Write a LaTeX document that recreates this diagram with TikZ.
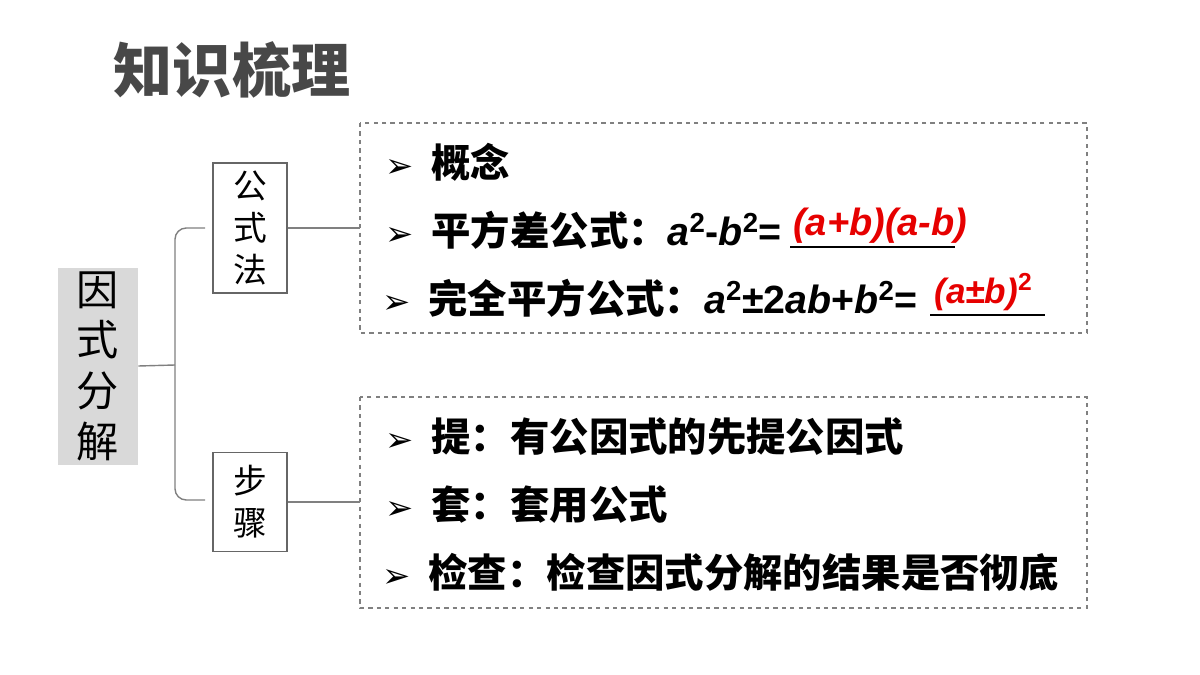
\documentclass[tikz,border=0pt]{standalone}
\usepackage{fontspec}
\setmainfont{Noto Sans CJK SC}
\newfontfamily\cjk{Noto Sans CJK SC}
\newfontfamily\lat{Liberation Sans}
\newfontfamily\sym{DejaVu Sans}
\usetikzlibrary{positioning}
\definecolor{titlegray}{RGB}{72,72,72}
\definecolor{ansred}{RGB}{230,0,0}
\tikzset{
  sidebox/.style={draw=gray!80!black, line width=0.8pt, fill=white, minimum width=74*0.025cm, align=center, font=\fontsize{24}{30}\selectfont, inner sep=2pt},
  dashbox/.style={draw=gray, dashed, line width=0.8pt},
  item/.style={anchor=west, font=\fontsize{28}{32}\selectfont\bfseries, inner sep=0pt},
  link/.style={gray, line width=1pt}
}
\newcommand{\bul}{{\sym\fontsize{24}{26}\selectfont\bfseries ➢}\ \ }
\newcommand{\vi}[1]{{\lat\itshape #1}}
\begin{document}
\begin{tikzpicture}[x=0.025cm,y=-0.025cm]
\useasboundingbox (0,0) rectangle (1200,675);

% title
\node[text=titlegray, font=\fontsize{42}{46}\selectfont\bfseries] (title) at (232,70) {知识梳理};

% main box
\node[fill=gray!30, minimum width=80*0.025cm, minimum height=197*0.025cm, align=center, font=\fontsize{30}{36}\selectfont, inner sep=0pt] (main) at (98,366) {因\\式\\分\\解};

% bracket
\coordinate (br) at (175,365);
\draw[link] (main.east) -- (br);
\draw[link, rounded corners=8pt] (205,228) -- (175,228) -- (175,500) -- (205,500);

% side boxes
\node[sidebox, minimum height=130*0.025cm] (gsf) at (250,228) {公\\式\\法};
\node[sidebox, minimum height=99*0.025cm] (bz) at (250,502) {步\\骤};

% dashed boxes
\draw[dashbox] (360,123) rectangle (1087,333);
\draw[dashbox] (360,397) rectangle (1087,608);
\coordinate (d1) at (360,228);
\coordinate (d2) at (360,502);
\draw[link] (gsf.east) -- (d1);
\draw[link] (bz.east) -- (d2);

% items
\node[item] (a1) at (385,162) {\bul 概念};
\node[item] (a2) at (385,230) {\bul 平方差公式：\vi{a}\textsuperscript{\lat 2}{\lat -}\vi{b}\textsuperscript{\lat 2}{\lat =}};
\node[item] (a3) at (382,298) {\bul 完全平方公式：\vi{a}\textsuperscript{\lat 2}{\lat ±2}\vi{ab}{\lat +}\vi{b}\textsuperscript{\lat 2}{\lat =}};
\node[item, text=ansred, font=\fontsize{27}{30}\selectfont\bfseries] (r1) at (793,226) {\vi{(a+b)(a-b)}};
\node[item, text=ansred, font=\fontsize{25}{30}\selectfont\bfseries] (r2) at (934,292) {\vi{(a±b)}\textsuperscript{\lat 2}};
\draw[line width=0.8pt] (790,247) -- (955,247);
\draw[line width=0.8pt] (930,315) -- (1045,315);

\node[item] (b1) at (385,437) {\bul 提：有公因式的先提公因式};
\node[item] (b2) at (385,505) {\bul 套：套用公式};
\node[item] (b3) at (382,572) {\bul 检查：检查因式分解的结果是否彻底};
\end{tikzpicture}
\end{document}
